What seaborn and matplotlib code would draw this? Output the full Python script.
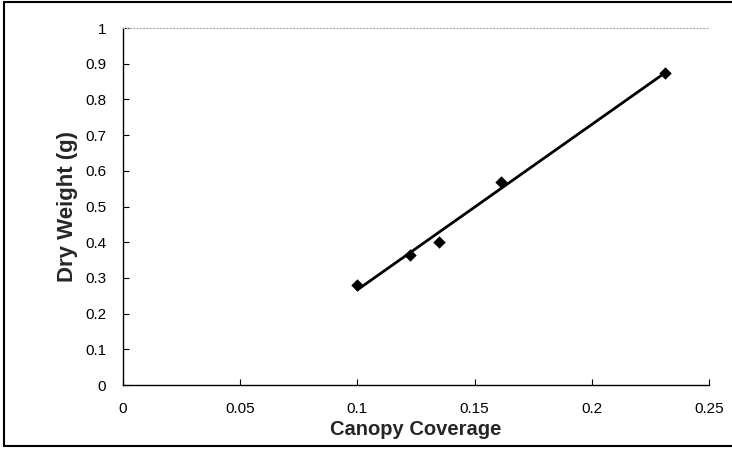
import numpy as np
import pandas as pd
import matplotlib
matplotlib.use("Agg")
import matplotlib.pyplot as plt
import seaborn as sns
from matplotlib.ticker import FuncFormatter

# values
canopy = [0.100, 0.1225, 0.1348, 0.1612, 0.2312]
dry_weight = [0.28, 0.365, 0.402, 0.570, 0.873]
x_ticks = [0, 0.05, 0.1, 0.15, 0.2, 0.25]
y_ticks = [0, 0.1, 0.2, 0.3, 0.4, 0.5, 0.6, 0.7, 0.8, 0.9, 1]

df = pd.DataFrame({"Canopy Coverage": canopy, "Dry Weight (g)": dry_weight})

sns.set_style("white")
plt.rcParams["font.family"] = ["Liberation Sans", "DejaVu Sans"]

fig = plt.figure(figsize=(7.32, 4.51), dpi=100)
ax = fig.add_axes([0.168, 0.1463, 0.8006, 0.7916])

sns.regplot(data=df, x="Canopy Coverage", y="Dry Weight (g)", ci=None,
            truncate=True, marker="D", color="black", ax=ax,
            scatter_kws={"s": 40, "alpha": 1, "zorder": 3, "linewidths": 0},
            line_kws={"linewidth": 2.0, "zorder": 2})

ax.set_xlim(0, 0.25)
ax.set_ylim(0, 1)
ax.set_xticks(x_ticks)
ax.set_yticks(y_ticks)
fmt = FuncFormatter(lambda v, p: f"{v:g}")
ax.xaxis.set_major_formatter(fmt)
ax.yaxis.set_major_formatter(fmt)
ax.tick_params(direction="in", length=4, width=0.8, labelsize=11,
               bottom=True, left=True, colors="black")
ax.tick_params(axis="x", pad=12)
ax.tick_params(axis="y", pad=12)

ax.set_xlabel("Canopy Coverage", fontsize=14.5, fontweight="bold", labelpad=3)
ax.set_ylabel("Dry Weight (g)", fontsize=16, fontweight="bold", labelpad=5)

for side in ["left", "bottom"]:
    ax.spines[side].set_color("black")
    ax.spines[side].set_linewidth(1.0)
ax.spines["top"].set_color("#aaaaaa")
ax.spines["top"].set_linestyle((0, (1, 2)))
ax.spines["top"].set_linewidth(0.8)
ax.spines["right"].set_visible(False)

# outer chart border (top, left, bottom)
fig.add_artist(plt.Line2D([0.006, 0.006], [0.01, 0.996], color="black", lw=1.5))
fig.add_artist(plt.Line2D([0.006, 1.0], [0.996, 0.996], color="black", lw=1.5))
fig.add_artist(plt.Line2D([0.006, 1.0], [0.01, 0.01], color="black", lw=1.5))

fig.savefig("out.png", dpi=100)
